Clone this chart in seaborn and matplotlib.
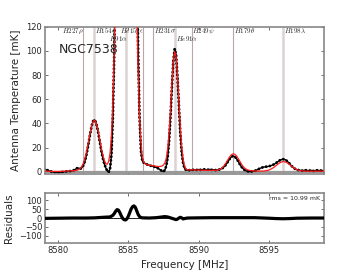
import matplotlib
matplotlib.use("Agg")
import matplotlib.pyplot as plt
import seaborn as sns
import pandas as pd

# ---------------- data ----------------
freq_a = [8579.0, 8579.2, 8579.4, 8579.6, 8579.8, 8580.0, 8580.2, 8580.4, 8580.6, 8580.8, 8581.0]
data_a = [2.5, 1.5, 0.6, 0.0, -0.5, -0.6, -0.3, 0.0, 0.3, 0.5, 0.8]
model_a = [0.6, 0.5, 0.4, 0.3, 0.3, 0.3, 0.4, 0.5, 0.6, 0.7, 0.9]

freq_b = [8581.1, 8581.2, 8581.3, 8581.4, 8581.5, 8581.6, 8581.7, 8581.8, 8581.9, 8582.0,
          8582.1, 8582.2, 8582.3, 8582.4, 8582.5, 8582.6, 8582.7, 8582.8, 8582.9, 8583.0,
          8583.1, 8583.2, 8583.3, 8583.4, 8583.5, 8583.6, 8583.7, 8583.8, 8583.9, 8584.0,
          8584.1, 8584.2, 8584.3, 8584.4, 8584.5, 8584.6, 8584.7, 8584.8, 8584.9, 8585.0,
          8585.1, 8585.2, 8585.3, 8585.4, 8585.5, 8585.6, 8585.7, 8585.8, 8585.9, 8586.0,
          8586.1, 8586.2, 8586.3, 8586.4, 8586.5, 8586.6, 8586.7, 8586.8, 8586.9, 8587.0,
          8587.1, 8587.2, 8587.3, 8587.4, 8587.5, 8587.6, 8587.7, 8587.8, 8587.9, 8588.0,
          8588.1, 8588.2, 8588.3, 8588.4, 8588.5, 8588.6, 8588.7, 8588.8, 8588.9, 8589.0,
          8589.1, 8589.2, 8589.3, 8589.4, 8589.5, 8589.6, 8589.7, 8589.8, 8589.9, 8590.0,
          8590.1, 8590.2, 8590.3, 8590.4, 8590.5, 8590.6, 8590.7, 8590.8, 8590.9, 8591.0,
          8591.1, 8591.2, 8591.3, 8591.4, 8591.5, 8591.6, 8591.7, 8591.8, 8591.9, 8592.0,
          8592.1, 8592.2, 8592.3, 8592.4, 8592.5, 8592.6, 8592.7, 8592.8, 8592.9, 8593.0,
          8593.1, 8593.2, 8593.3, 8593.4, 8593.5, 8593.6]
data_b = [1.2, 1.8, 2.6, 3.2, 2.8, 2.6, 3.4, 5.3, 8.4, 13.0,
          18.8, 25.6, 32.4, 38.3, 42.1, 43.0, 40.8, 36.0, 29.6, 22.6,
          16.0, 10.6, 6.3, 3.2, 0.8, -0.3, 2.5, 14.0, 45.0, 98.0,
          207, 313, 436, 570, 708, 836, 936, 986, 979, 918,
          814, 684, 542, 407, 284, 180, 100, 45, 17, 9.0,
          7.5, 6.8, 6.2, 5.8, 5.4, 5.0, 4.7, 4.3, 4.0, 3.6,
          3.0, 2.3, 1.5, 0.6, 0.2, 1.4, 4.7, 11.7, 24.9, 45.0,
          69.3, 90.9, 101.7, 96.9, 78.7, 54.5, 32.1, 16.1, 7.2, 3.0,
          1.6, 1.4, 1.2, 1.5, 1.3, 1.6, 1.8, 1.4, 1.6, 1.9,
          1.7, 1.5, 1.8, 2.0, 1.7, 1.5, 1.8, 2.0, 1.7, 1.5,
          1.6, 1.4, 1.4, 1.6, 1.9, 2.35, 2.95, 3.9, 5.2, 6.8,
          8.6, 10.4, 11.9, 12.8, 13.0, 12.3, 10.9, 9.1, 7.0, 5.1,
          3.5, 2.2, 1.3, 0.7, 0.4, 0.2]
model_b = [1.0, 1.0, 1.15, 1.45, 2.0, 3.0, 4.5, 7.1, 10.6, 15.4,
           21.0, 27.3, 33.5, 38.6, 41.8, 42.6, 40.8, 36.7, 31.1, 24.8,
           18.5, 13.2, 9.2, 6.7, 6.2, 8.6, 15.4, 30.0, 56.7, 100.5,
           169.5, 266, 392, 540, 696, 838, 945, 997, 984, 908,
           784, 634, 479, 339, 224, 139.5, 81, 45, 24, 11.5,
           8.0, 6.6, 6.0, 5.7, 5.5, 5.3, 5.1, 4.9, 4.7, 4.5,
           4.4, 4.4, 4.5, 4.8, 5.6, 7.2, 11.0, 18.8, 32.3, 51.2,
           72.7, 90.9, 99.5, 95.3, 79.8, 58.3, 37.3, 21.0, 10.6, 4.9,
           2.3, 1.6, 1.5, 1.6, 1.6, 1.6, 1.5, 1.5, 1.4, 1.4,
           1.4, 1.3, 1.3, 1.3, 1.3, 1.3, 1.2, 1.2, 1.2, 1.2,
           1.2, 1.2, 1.3, 1.5, 1.9, 2.6, 3.5, 4.8, 6.4, 8.3,
           10.3, 12.1, 13.7, 14.6, 14.9, 14.3, 13.1, 11.4, 9.4, 7.3,
           5.5, 4.0, 2.9, 2.1, 1.5, 1.2]

freq_c = [8593.8, 8594.0, 8594.2, 8594.4, 8594.6, 8594.8, 8595.0, 8595.2, 8595.4, 8595.6,
          8595.8, 8596.0, 8596.2, 8596.4, 8596.6, 8596.8, 8597.0, 8597.2, 8597.4, 8597.6,
          8597.8, 8598.0, 8598.2, 8598.4, 8598.6, 8598.8, 8599.0]
data_c = [0.3, 0.8, 1.8, 3.0, 3.8, 4.2, 4.5, 5.3, 6.3, 8.0,
          9.6, 10.5, 9.9, 7.8, 5.1, 2.9, 1.6, 1.3, 0.9, 1.4,
          0.8, 1.2, 0.7, 1.3, 0.9, 1.1, 0.8]
model_c = [0.8, 0.7, 0.6, 0.6, 0.6, 0.9, 1.4, 2.5, 4.0, 5.9,
           7.6, 8.5, 8.1, 6.7, 4.8, 3.0, 1.8, 1.0, 0.7, 0.55,
           0.5, 0.5, 0.5, 0.5, 0.5, 0.5, 0.5]

resid_freq = [8579.0, 8580.0, 8581.0, 8582.0, 8582.6, 8583.0, 8583.4, 8583.7, 8583.9, 8584.0,
              8584.1, 8584.2, 8584.3, 8584.4, 8584.5, 8584.6, 8584.7, 8584.8, 8584.9, 8585.0,
              8585.1, 8585.2, 8585.3, 8585.4, 8585.5, 8585.6, 8585.7, 8585.8, 8585.9, 8586.0,
              8586.5, 8587.0, 8587.4, 8587.6, 8587.8, 8588.0, 8588.2, 8588.4, 8588.5, 8588.6,
              8588.7, 8588.8, 8588.9, 8589.0, 8589.2, 8590.0, 8591.0, 8592.0, 8593.0, 8594.0,
              8595.0, 8595.5, 8596.0, 8596.5, 8597.0, 8598.0, 8599.0]
resid_vals = [-2, -1, 0, 0, 1, 3, 5, 6, 15, 25,
              38, 47, 44, 30, 12, -2, -9, -11, -5, 10,
              30, 50, 63, 68, 60, 40, 20, 8, 3, 1,
              0, 2, 6, 8, 6, 1, -4, -9, -6, 0,
              4, 1, -5, -3, 0, 1, 2, 2, 2, 2,
              -1, -3, -4, -3, -1, 0, 0]

line_freqs = [8581.80, 8582.58, 8584.86, 8586.08, 8586.78, 8588.32, 8589.52, 8592.48, 8596.04]
line_thick = [False, True, True, False, False, True, False, False, True]

label_texts = [r'$H227\rho$', r'$H154\epsilon$', r'$He154\epsilon$', r'$H231\sigma$',
               r'$H249\psi$', r'$H179\theta$', r'$H198\lambda$', r'$H91\alpha$', r'$He91\alpha$']
label_x = [8580.28, 8582.63, 8584.41, 8586.83, 8589.54, 8592.53, 8596.09, 8583.63, 8588.40]
label_row = [0, 0, 0, 0, 0, 0, 0, 1, 1]

spec = pd.DataFrame({'freq': freq_a + freq_b + freq_c,
                     'data': data_a + data_b + data_c,
                     'model': model_a + model_b + model_c})
resid = pd.DataFrame({'freq': resid_freq, 'resid': resid_vals})

# ---------------- plot ----------------
sns.set_style("ticks")
plt.rcParams['font.family'] = ['DejaVu Sans']
plt.rcParams['mathtext.fontset'] = 'cm'
plt.rcParams['axes.formatter.useoffset'] = False

fig = plt.figure(figsize=(3.6, 2.7), dpi=100)
ax1 = fig.add_axes([0.125, 0.357, 0.775, 0.544])
ax2 = fig.add_axes([0.125, 0.101, 0.775, 0.183])

for f, thick in zip(line_freqs, line_thick):
    if thick:
        ax1.axvline(f, color='#dcd2d2', lw=1.8, zorder=1)
    else:
        ax1.axvline(f, color='#bfa5a5', lw=0.8, zorder=1)
ax1.axhline(0, color='#999999', lw=1.6, zorder=1)

sns.lineplot(data=spec, x='freq', y='data', ax=ax1, color='black', lw=1.0,
             zorder=2, sort=True, estimator=None)
sns.lineplot(data=spec, x='freq', y='data', ax=ax1, color='black', lw=2.1,
             linestyle=(0, (0.01, 1.3)), dash_capstyle='round',
             zorder=2, sort=True, estimator=None)
sns.lineplot(data=spec, x='freq', y='model', ax=ax1, color='#ff1a1a', lw=0.9,
             zorder=3, sort=True, estimator=None)

row_y = [116.5, 110.5]
for t, x, r in zip(label_texts, label_x, label_row):
    ax1.text(x, row_y[r], t, fontsize=5, ha='left', va='center', zorder=4)

ax1.text(8580.07, 101.5, 'NGC7538', fontsize=9, ha='left', va='center', zorder=4)

xlim = (8579.07, 8598.93)
ax1.set_xlim(*xlim)
ax1.set_ylim(-1.5, 120)
ax1.set_yticks([0, 20, 40, 60, 80, 100, 120])
ax1.set_xticks([8580, 8585, 8590, 8595])
ax1.set_xticklabels([])
ax1.set_xlabel('')
ax1.set_ylabel('Antenna Temperature [mK]', fontsize=7.5)

sns.lineplot(data=resid, x='freq', y='resid', ax=ax2, color='black', lw=2.3,
             zorder=3, sort=True, estimator=None)
ax2.axhline(0, color='black', lw=0.6, zorder=2)
ax2.set_xlim(*xlim)
ax2.set_ylim(-138, 138)
ax2.set_yticks([-100, -50, 0, 50, 100])
ax2.set_xticks([8580, 8585, 8590, 8595])
ax2.set_xlabel('Frequency [MHz]', fontsize=7.5)
ax2.set_ylabel('Residuals', fontsize=7.5)
ax2.text(0.985, 0.95, 'rms = 10.99 mK', transform=ax2.transAxes, fontsize=4.5,
         ha='right', va='top')

for ax in (ax1, ax2):
    for s in ax.spines.values():
        s.set_color('#888888')
        s.set_linewidth(1.2)
    ax.tick_params(direction='in', length=2.5, width=0.6, color='#555555',
                   top=True, right=True, labelsize=6, pad=2)

fig.savefig('out.png', dpi=100)
